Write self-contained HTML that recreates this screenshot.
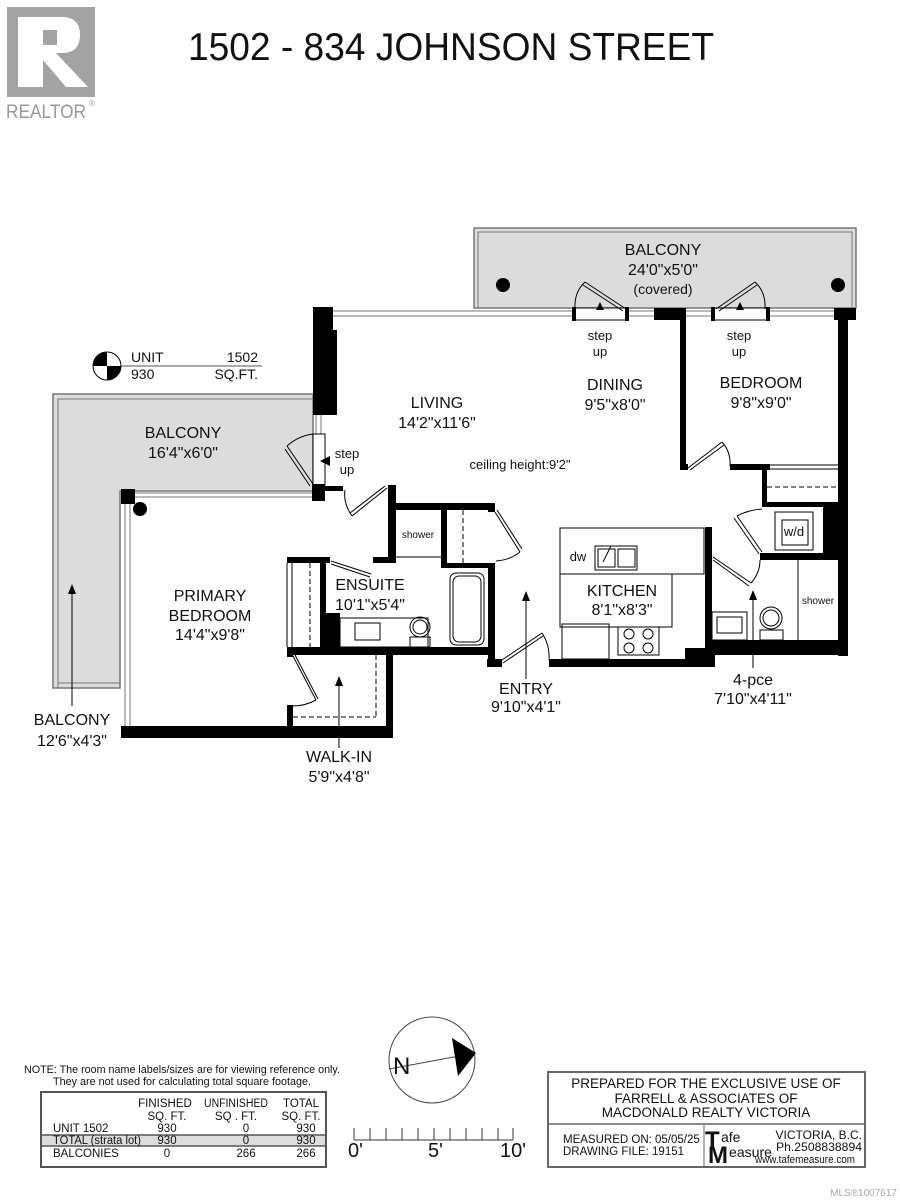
<!DOCTYPE html>
<html><head><meta charset="utf-8"><style>
html,body{margin:0;padding:0;background:#fff}
svg{display:block}
text{font-family:"Liberation Sans",Arial,sans-serif;fill:#111}
</style></head><body>
<svg width="900" height="1200" viewBox="0 0 900 1200" xmlns="http://www.w3.org/2000/svg">
<rect x="7" y="7" width="88" height="90" fill="#a3a3a3"/>
<path d="M18 17 H62 Q80 17 80 35 Q80 53 62 53 H56 L88 87 H66 L43 60 V87 H18 Z" fill="#fff"/>
<rect x="43" y="30" width="14" height="15" fill="#a3a3a3"/>
<text x="6" y="118" font-size="19" textLength="80" lengthAdjust="spacingAndGlyphs" style="fill:#999">REALTOR</text>
<text x="89" y="106" font-size="8" style="fill:#999">®</text>
<text x="188" y="60" font-size="39" textLength="526" lengthAdjust="spacingAndGlyphs">1502 - 834 JOHNSON STREET</text>

<rect x="474" y="228" width="382" height="80" fill="#dcdcdc" stroke="#777" stroke-width="1.5"/>
<path d="M478 308 V232 H852 V308" fill="none" stroke="#777" stroke-width="1"/>
<path d="M53 394 H313 V491 H120 V688 H53 Z" fill="#dcdcdc" stroke="#777" stroke-width="1.5"/>
<path d="M58 688 V399 H313" fill="none" stroke="#777" stroke-width="1"/>
<line x1="58" y1="683" x2="120" y2="683" stroke="#777" stroke-width="1"/>
<circle cx="503" cy="285" r="7" fill="#000"/>
<circle cx="838" cy="285" r="7" fill="#000"/>

<g stroke="#777" stroke-width="1" fill="none">
<line x1="333" y1="311" x2="573" y2="311"/><line x1="333" y1="316" x2="573" y2="316"/>
<line x1="628" y1="311" x2="654" y2="311"/><line x1="628" y1="316" x2="654" y2="316"/>
<line x1="686" y1="311" x2="712" y2="311"/><line x1="686" y1="316" x2="712" y2="316"/>
<line x1="769" y1="311" x2="834" y2="311"/><line x1="769" y1="316" x2="834" y2="316"/>
<line x1="135" y1="493" x2="312" y2="493"/><line x1="135" y1="497" x2="312" y2="497"/>
<line x1="125" y1="504" x2="125" y2="727"/><line x1="130" y1="504" x2="130" y2="727"/>
<line x1="316" y1="415" x2="316" y2="434"/><line x1="321" y1="415" x2="321" y2="434"/>
</g>

<g stroke="#000" fill="#fff" stroke-width="1">
<rect x="573" y="308" width="55" height="12"/>
<rect x="712" y="308" width="57" height="12"/>
<rect x="313" y="434" width="12" height="51"/>
</g>
<g fill="#000">
<rect x="572" y="307" width="4" height="14"/><rect x="625" y="307" width="4" height="14"/>
<rect x="711" y="307" width="4" height="14"/><rect x="766" y="307" width="4" height="14"/>
<polygon points="600,302 596,310 604,310"/><polygon points="740,302 736,310 744,310"/>
<polygon points="320,461 330,456 330,466"/>
</g>
<g fill="none" stroke="#000" stroke-width="1">
<path d="M626 309 L585 282 M623 311 L583 285"/>
<path d="M585 282 Q574 292 575 309"/>
<path d="M716 309 L755 282 M719 311 L757 285"/>
<path d="M755 282 Q766 292 765 309"/>
<path d="M313 484 L287 446 M310 486 L285 449"/>
<path d="M287 446 Q298 436 313 434"/>
<path d="M387 488 L352 516 M385 486 L350 513"/>
<path d="M352 516 Q343 503 345 490"/>
<path d="M495 512 L520 552 M497 510 L522 549"/>
<path d="M520 552 Q510 560 496 561"/>
<path d="M331 561 L371 574 M331 564 L370 577"/>
<path d="M293 656 L316 700 M295 655 L318 699"/>
<path d="M316 700 Q305 706 293 706"/>
<path d="M502 660 L542 633 M503 663 L543 636"/>
<path d="M542 633 Q550 645 549 660"/>
<path d="M688 468 L722 442 M690 470 L724 445"/>
<path d="M722 442 Q731 452 730 466"/>
<path d="M762 552 L737 516 M759 554 L734 518"/>
<path d="M737 516 Q748 510 762 509"/>
<path d="M713 557 L751 583 M713 560 L749 586"/>
<path d="M751 583 Q760 573 760 560"/>
</g>

<g fill="#000">
<path d="M313 307 H333 V330 H337 V415 H313 Z"/>
<rect x="312" y="484" width="13" height="17"/>
<rect x="325" y="486" width="18" height="5"/>
<rect x="121" y="489" width="14" height="15"/>
<circle cx="140" cy="509" r="7"/>
<rect x="121" y="726" width="272" height="12"/>
<rect x="654" y="308" width="32" height="12"/>
<rect x="680" y="308" width="6" height="161"/>
<rect x="680" y="464" width="8" height="6"/>
<rect x="834" y="308" width="22" height="12"/>
<rect x="838" y="308" width="10" height="348"/>
<rect x="730" y="464" width="40" height="6"/>
<rect x="762" y="464" width="5" height="43"/>
<rect x="762" y="502" width="80" height="5"/>
<rect x="823" y="502" width="15" height="58"/>
<rect x="760" y="553" width="80" height="7"/>
<rect x="705" y="527" width="7" height="140"/>
<rect x="712" y="640" width="136" height="15"/>
<rect x="685" y="648" width="30" height="19"/>
<rect x="549" y="659" width="166" height="8"/>
<rect x="487" y="659" width="15" height="8"/>
<rect x="388" y="485" width="8" height="78"/>
<rect x="388" y="503" width="107" height="7"/>
<rect x="441" y="503" width="6" height="64"/>
<rect x="441" y="563" width="54" height="5"/>
<rect x="488" y="503" width="7" height="9"/>
<rect x="488" y="563" width="7" height="97"/>
<rect x="287" y="557" width="43" height="6"/>
<rect x="373" y="557" width="23" height="6"/>
<rect x="320" y="557" width="6" height="93"/>
<rect x="326" y="613" width="14" height="37"/>
<rect x="287" y="647" width="208" height="8"/>
<rect x="287" y="647" width="6" height="10"/>
<rect x="287" y="705" width="6" height="33"/>
<rect x="386" y="647" width="7" height="91"/>
</g>
<g fill="none" stroke="#000" stroke-width="1">
<line x1="287" y1="563" x2="287" y2="647"/><line x1="292" y1="563" x2="292" y2="647"/>
<line x1="310" y1="563" x2="310" y2="647" stroke-dasharray="5,3"/>
<line x1="376" y1="655" x2="376" y2="717" stroke-dasharray="5,3"/>
<line x1="293" y1="717" x2="376" y2="717" stroke-dasharray="5,3"/>
<line x1="396" y1="557" x2="441" y2="557"/>
<line x1="463" y1="510" x2="463" y2="563" stroke-dasharray="5,3"/>
<rect x="340" y="618" width="88" height="29"/>
<rect x="355" y="623" width="25" height="17"/>
<circle cx="420" cy="627" r="10"/><circle cx="420" cy="627" r="7"/>
<rect x="410" y="637" width="20" height="10"/>
<rect x="450" y="573" width="34" height="72" rx="6"/>
<rect x="453" y="576" width="28" height="66" rx="6"/>
<rect x="560" y="528" width="144" height="46"/>
<path d="M560 574 V627 H672 V574"/>
<rect x="595" y="546" width="42" height="24"/>
<rect x="598" y="549" width="17" height="18"/><rect x="618" y="549" width="17" height="18"/>
<line x1="611" y1="546" x2="603" y2="562"/>
<rect x="562" y="624" width="47" height="35"/>
<rect x="618" y="627" width="41" height="28"/>
<circle cx="629" cy="634" r="5"/><circle cx="648" cy="634" r="5"/>
<circle cx="629" cy="648" r="5"/><circle cx="648" cy="648" r="5"/>
<line x1="770" y1="465" x2="838" y2="465"/><line x1="770" y1="469" x2="838" y2="469"/>
<line x1="767" y1="487" x2="838" y2="487" stroke-dasharray="5,3"/>
<rect x="775" y="512" width="38" height="38"/><rect x="782" y="520" width="26" height="25"/>
<line x1="798" y1="560" x2="798" y2="640"/>
<rect x="712" y="612" width="35" height="28"/><rect x="717" y="617" width="25" height="16"/>
<circle cx="771" cy="618" r="11"/><circle cx="771" cy="618" r="8"/>
<rect x="760" y="630" width="23" height="10"/>
</g>
<g stroke="#000" stroke-width="1">
<line x1="72" y1="592" x2="72" y2="706"/>
<line x1="339" y1="684" x2="339" y2="748"/>
<line x1="526" y1="598" x2="526" y2="679"/>
<line x1="753" y1="598" x2="753" y2="668"/>
</g>
<g fill="#000">
<polygon points="72,584 68,594 76,594"/>
<polygon points="339,676 335,686 343,686"/>
<polygon points="526,591 522,601 530,601"/>
<polygon points="753,590 749,600 757,600"/>
</g>

<circle cx="107" cy="366" r="14" fill="#fff" stroke="#000"/>
<path d="M107 366 V352 A14 14 0 0 0 93 366 Z M107 366 V380 A14 14 0 0 0 121 366 Z" fill="#000"/>
<line x1="121" y1="366" x2="262" y2="366" stroke="#555"/>
<text x="131" y="362" font-size="14">UNIT</text>
<text x="258" y="362" font-size="14" text-anchor="end">1502</text>
<text x="131" y="379" font-size="14">930</text>
<text x="258" y="379" font-size="14" text-anchor="end">SQ.FT.</text>

<g font-size="16" text-anchor="middle">
<text x="663" y="255">BALCONY</text>
<text x="663" y="275">24'0"x5'0"</text>
<text x="663" y="294" font-size="14">(covered)</text>
<text x="183" y="438">BALCONY</text>
<text x="183" y="458">16'4"x6'0"</text>
<text x="437" y="408">LIVING</text>
<text x="437" y="428">14'2"x11'6"</text>
<text x="615" y="390">DINING</text>
<text x="615" y="410">9'5"x8'0"</text>
<text x="761" y="388">BEDROOM</text>
<text x="761" y="408">9'8"x9'0"</text>
<text x="210" y="601">PRIMARY</text>
<text x="210" y="621">BEDROOM</text>
<text x="210" y="640">14'4"x9'8"</text>
<text x="370" y="590">ENSUITE</text>
<text x="370" y="610">10'1"x5'4"</text>
<text x="622" y="596">KITCHEN</text>
<text x="622" y="615">8'1"x8'3"</text>
<text x="526" y="694">ENTRY</text>
<text x="526" y="712">9'10"x4'1"</text>
<text x="753" y="685">4-pce</text>
<text x="753" y="704">7'10"x4'11"</text>
<text x="72" y="725">BALCONY</text>
<text x="72" y="746">12'6"x4'3"</text>
<text x="339" y="762">WALK-IN</text>
<text x="339" y="782">5'9"x4'8"</text>
</g>
<g font-size="13" text-anchor="middle">
<text x="600" y="340">step</text><text x="600" y="356">up</text>
<text x="739" y="340">step</text><text x="739" y="356">up</text>
<text x="347" y="458">step</text><text x="347" y="474">up</text>
<text x="520" y="469">ceiling height:9'2"</text>
<text x="578" y="561">dw</text>
<text x="794" y="536">w/d</text>
</g>
<g font-size="10" text-anchor="middle">
<text x="418" y="538">shower</text>
<text x="818" y="604">shower</text>
</g>

<text x="24" y="1073" font-size="11" textLength="316" lengthAdjust="spacingAndGlyphs">NOTE: The room name labels/sizes are for viewing reference only.</text>
<text x="53" y="1085" font-size="11" textLength="258" lengthAdjust="spacingAndGlyphs">They are not used for calculating total square footage.</text>
<rect x="41" y="1092" width="285" height="75" fill="#fff" stroke="#555" stroke-width="2"/>
<rect x="42" y="1135" width="283" height="11" fill="#ddd"/>
<line x1="42" y1="1135" x2="325" y2="1135" stroke="#555" stroke-width="1.5"/>
<line x1="42" y1="1146" x2="325" y2="1146" stroke="#555" stroke-width="1.5"/>
<g font-size="11.5" text-anchor="middle">
<text x="165" y="1107">FINISHED</text><text x="167" y="1120">SQ. FT.</text>
<text x="236" y="1107" textLength="64" lengthAdjust="spacingAndGlyphs">UNFINISHED</text><text x="236" y="1120">SQ . FT.</text>
<text x="301" y="1107">TOTAL</text><text x="301" y="1120">SQ. FT.</text>
<text x="167" y="1132">930</text><text x="246" y="1132">0</text><text x="306" y="1132">930</text>
<text x="167" y="1144">930</text><text x="246" y="1144">0</text><text x="306" y="1144">930</text>
<text x="167" y="1157">0</text><text x="246" y="1157">266</text><text x="306" y="1157">266</text>
</g>
<g font-size="11.5">
<text x="53" y="1132">UNIT 1502</text>
<text x="53" y="1144" textLength="88" lengthAdjust="spacingAndGlyphs">TOTAL (strata lot)</text>
<text x="53" y="1157">BALCONIES</text>
</g>

<circle cx="432" cy="1060" r="43" fill="#fff" stroke="#444" stroke-width="1"/>
<line x1="389" y1="1069" x2="470" y2="1054" stroke="#444"/>
<polygon points="452,1038 476,1053 458,1076" fill="#000"/>
<text x="393" y="1074" font-size="24">N</text>

<g stroke="#333" stroke-width="1">
<line x1="354" y1="1140" x2="513" y2="1140"/>
<line x1="354" y1="1128" x2="354" y2="1140"/><line x1="370" y1="1128" x2="370" y2="1140"/>
<line x1="386" y1="1128" x2="386" y2="1140"/><line x1="402" y1="1128" x2="402" y2="1140"/>
<line x1="418" y1="1128" x2="418" y2="1140"/><line x1="434" y1="1128" x2="434" y2="1140"/>
<line x1="450" y1="1128" x2="450" y2="1140"/><line x1="466" y1="1128" x2="466" y2="1140"/>
<line x1="482" y1="1128" x2="482" y2="1140"/><line x1="498" y1="1128" x2="498" y2="1140"/>
<line x1="513" y1="1128" x2="513" y2="1140"/>
</g>
<text x="348" y="1157" font-size="20">0'</text>
<text x="428" y="1157" font-size="20">5'</text>
<text x="500" y="1157" font-size="20">10'</text>

<rect x="548" y="1072" width="317" height="95" fill="#fff" stroke="#666" stroke-width="2"/>
<line x1="549" y1="1124" x2="864" y2="1124" stroke="#666" stroke-width="1.5"/>
<line x1="704" y1="1124" x2="704" y2="1166" stroke="#666" stroke-width="1"/>
<g font-size="13.5" text-anchor="middle">
<text x="706" y="1088">PREPARED FOR THE EXCLUSIVE USE OF</text>
<text x="706" y="1103">FARRELL &amp; ASSOCIATES  OF</text>
<text x="706" y="1117">MACDONALD REALTY VICTORIA</text>
</g>
<text x="563" y="1143" font-size="11.5">MEASURED ON: 05/05/25</text>
<text x="563" y="1155" font-size="11.5">DRAWING FILE:  19151</text>
<text x="705" y="1148" font-size="24" font-weight="bold">T</text>
<text x="721" y="1142" font-size="14">afe</text>
<text x="708" y="1163" font-size="24" font-weight="bold">M</text>
<text x="729" y="1157" font-size="14" textLength="43" lengthAdjust="spacingAndGlyphs">easure</text>
<g font-size="12" text-anchor="end">
<text x="862" y="1139">VICTORIA, B.C.</text>
<text x="862" y="1151" textLength="86" lengthAdjust="spacingAndGlyphs">Ph.2508838894</text>
<text x="855" y="1163" font-size="11" textLength="100" lengthAdjust="spacingAndGlyphs">www.tafemeasure.com</text>
</g>
<text x="897" y="1196" font-size="10" text-anchor="end" style="fill:#aaa">MLS®1007617</text>
</svg>
</body></html>
